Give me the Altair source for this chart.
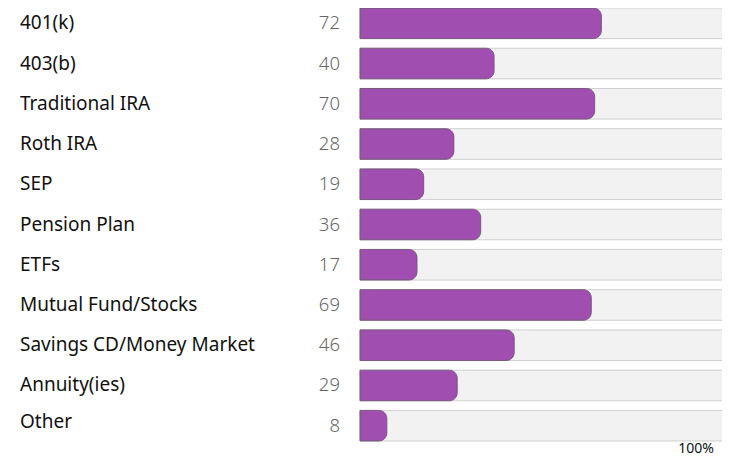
import altair as alt
import pandas as pd

categories = ["401(k)", "403(b)", "Traditional IRA", "Roth IRA", "SEP", "Pension Plan",
              "ETFs", "Mutual Fund/Stocks", "Savings CD/Money Market", "Annuity(ies)", "Other"]
values = [72, 40, 70, 28, 19, 36, 17, 69, 46, 29, 8]
scale_max = 108.0
track_max = 112.0
scale_label = "100%"

df = pd.DataFrame({"cat": categories, "val": values, "track": [track_max] * len(values)})

x_scale = alt.Scale(domain=[0, scale_max], range=[352, 714], nice=False, zero=True)
y_scale = alt.Scale(domain=categories, range=[0, 433], paddingInner=0.24, paddingOuter=0)

base = alt.Chart(df)
FONT = "Noto Sans"
Y = alt.Y("cat:N", scale=y_scale, axis=None, sort=categories)

track = base.mark_bar(fill="#f2f2f2", stroke="#cfcfcf", strokeWidth=1, clip=False).encode(
    x=alt.X("track:Q", scale=x_scale, axis=None), y=Y,
)

bars = base.mark_bar(color="#a04eb0", stroke="#7a5a80", strokeWidth=1, cornerRadiusEnd=8).encode(
    x=alt.X("val:Q", scale=x_scale, axis=None), y=Y,
)

labels = base.transform_filter(alt.datum.cat != "Other").mark_text(
    align="left", baseline="middle", font=FONT, fontSize=19, color="#111111"
).encode(x=alt.value(12), y=Y, text="cat:N")

label_other = base.transform_filter(alt.datum.cat == "Other").mark_text(
    align="left", baseline="middle", font=FONT, fontSize=19, color="#111111", dy=-4
).encode(x=alt.value(12), y=Y, text="cat:N")

nums = base.mark_text(align="right", baseline="middle", font=FONT, fontSize=18.5, fontWeight=300,
                      color="#666666").encode(
    x=alt.value(332), y=Y, text="val:Q",
)

foot = alt.Chart(pd.DataFrame({"t": [scale_label]})).mark_text(
    align="right", baseline="middle", font=FONT, fontSize=14, color="#111111"
).encode(x=alt.value(706), y=alt.value(441), text="t:N")

chart = alt.layer(track, bars, labels, label_other, nums, foot).properties(
    width=714, height=448, padding=0, autosize=alt.AutoSizeParams(type="none")
).configure_view(stroke=None)

chart.save("out.html", embed_options={"renderer": "svg", "actions": False})
